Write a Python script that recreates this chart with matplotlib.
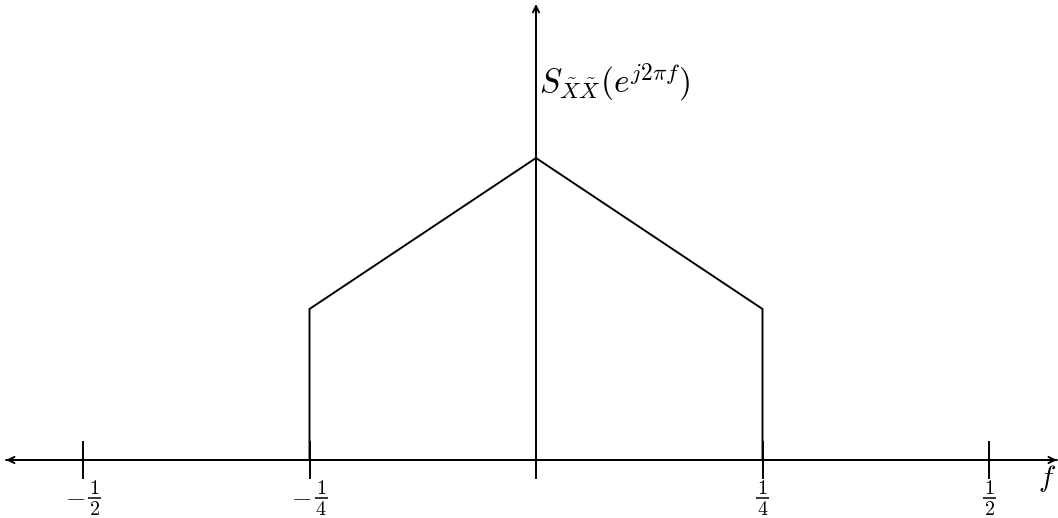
import matplotlib.pyplot as plt

plt.rcParams['mathtext.fontset'] = 'cm'

# spectrum outline (frequency, level)
freq = [-0.25, -0.25, 0.0, 0.25, 0.25]
level = [0.0, 1.0, 2.0, 1.0, 0.0]

tick_pos = [-0.5, -0.25, 0.25, 0.5]
tick_num = [1, 1, 1, 1]
tick_den = [2, 4, 4, 2]

# data units per pixel
PX_X = 1 / 906
PX_Y = 1 / 151

fig = plt.figure(figsize=(10.58, 5.18), dpi=100)
ax = fig.add_axes([0, 0, 1, 1])
ax.set_xlim(-536 * PX_X, (1058 - 536) * PX_X)
ax.set_ylim(-58 * PX_Y, 460 * PX_Y)
ax.axis('off')

lw = 1.4
arrow = dict(arrowstyle='->,head_length=0.45,head_width=0.22', lw=lw, color='black',
             shrinkA=0, shrinkB=0)

# axes with arrow heads
ax.annotate('', xy=(-0.585, 0), xytext=(0.575, 0), arrowprops=arrow)
ax.annotate('', xy=(0.575, 0), xytext=(-0.585, 0), arrowprops=arrow)
ax.annotate('', xy=(0, 3.02), xytext=(0, 0), arrowprops=arrow)
ax.plot([0, 0], [-0.12, 0], color='black', lw=lw)

ax.plot(freq, level, color='black', lw=lw, solid_joinstyle='miter')

# ticks with stacked fraction labels
for x, n, d in zip(tick_pos, tick_num, tick_den):
    ax.plot([x, x], [-0.12, 0.12], color='black', lw=lw)
    xc = x
    if x < 0:
        xc = x + 11.5 * PX_X
        ax.text(x - 8 * PX_X, -37 * PX_Y, r'$-$', ha='center', va='center', fontsize=19)
    ax.text(xc, -28 * PX_Y, r'$%d$' % n, ha='center', va='center', fontsize=14.5)
    ax.plot([xc - 6.5 * PX_X, xc + 6.5 * PX_X], [-38 * PX_Y, -38 * PX_Y],
            color='black', lw=1.1, solid_capstyle='butt')
    ax.text(xc, -49.5 * PX_Y, r'$%d$' % d, ha='center', va='center', fontsize=14.5)

ax.text(0.003, 2.5, r'$S_{\tilde{X}\tilde{X}}(e^{j2\pi f})$', ha='left', va='center',
        fontsize=24)
ax.text(0.554, -0.02, r'$f$', ha='left', va='top', fontsize=21)

fig.savefig('out.png', dpi=100)
